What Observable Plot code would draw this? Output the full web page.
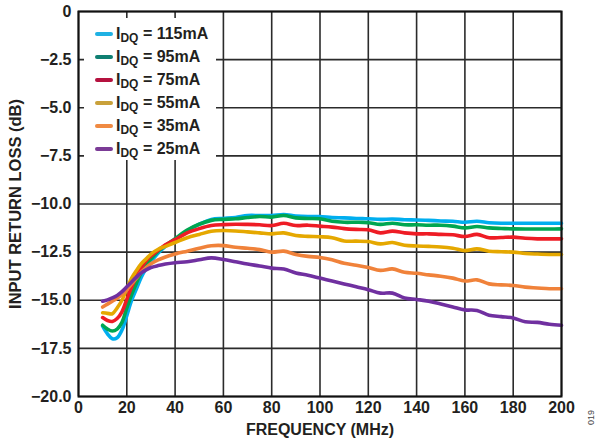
<!DOCTYPE html>
<html>
<head>
<meta charset="utf-8">
<script src="https://cdn.jsdelivr.net/npm/d3@7"></script>
<script src="https://cdn.jsdelivr.net/npm/@observablehq/plot@0.6"></script>
<style>
  html, body { margin: 0; padding: 0; background: #fff; }
  #wrap { position: relative; width: 601px; height: 444px; font-family: "Liberation Sans", Arial, sans-serif; }
  #legend { position: absolute; left: 84px; top: 18px; width: 132px; height: 142px; background: #fff; }
  .row { position: absolute; left: 11px; height: 20px; display: flex; align-items: center; font-weight: bold; font-size: 16px; color: #231f20; white-space: nowrap; }
  .sw { width: 18px; height: 4px; border-radius: 2px; margin-right: 3px; }
  .row sub { font-size: 12px; position: relative; top: 3px; vertical-align: baseline; }
  #code { position: absolute; left: 586px; top: 425px; transform: rotate(-90deg); transform-origin: left top; font-size: 9px; color: #444; font-family: "Liberation Sans", Arial, sans-serif; }
</style>
</head>
<body>
<div id="wrap"></div>
<script>
const freq = [10,12,14,16,18,20,22,24,26,28,30,33,36,40,45,50,55,60,65,70,75,80,85,90,95,100,105,110,115,120,125,130,135,140,145,150,155,160,165,170,175,180,185,190,195,200];
const idq115 = [-16.35,-16.75,-17.0,-16.95,-16.55,-15.8,-15.0,-14.4,-13.8,-13.35,-13.0,-12.55,-12.2,-11.85,-11.4,-11.05,-10.8,-10.75,-10.7,-10.6,-10.6,-10.6,-10.55,-10.62,-10.65,-10.65,-10.7,-10.72,-10.75,-10.77,-10.8,-10.78,-10.82,-10.83,-10.85,-10.88,-10.9,-10.95,-10.9,-10.97,-11.0,-11.0,-11.0,-11.0,-11.0,-11.0];
const idq95 = [-16.3,-16.5,-16.6,-16.5,-16.15,-15.4,-14.7,-14.1,-13.55,-13.15,-12.85,-12.45,-12.15,-11.8,-11.35,-11.05,-10.85,-10.8,-10.77,-10.7,-10.65,-10.68,-10.6,-10.72,-10.75,-10.77,-10.9,-10.95,-10.95,-10.97,-11.06,-11.0,-11.08,-11.08,-11.1,-11.1,-11.15,-11.24,-11.17,-11.24,-11.27,-11.29,-11.3,-11.3,-11.3,-11.29];
const idq75 = [-15.9,-16.05,-16.1,-15.95,-15.6,-14.95,-14.3,-13.75,-13.3,-12.95,-12.7,-12.4,-12.12,-11.85,-11.5,-11.28,-11.12,-11.07,-11.05,-11.06,-11.08,-11.12,-11.0,-11.12,-11.1,-11.15,-11.2,-11.28,-11.32,-11.34,-11.5,-11.41,-11.5,-11.55,-11.55,-11.58,-11.6,-11.69,-11.58,-11.75,-11.74,-11.72,-11.78,-11.81,-11.81,-11.81];
const idq55 = [-15.65,-15.68,-15.7,-15.4,-15.0,-14.4,-13.85,-13.45,-13.1,-12.85,-12.6,-12.35,-12.2,-12.0,-11.75,-11.58,-11.42,-11.38,-11.4,-11.45,-11.5,-11.55,-11.5,-11.64,-11.68,-11.7,-11.75,-11.92,-11.93,-11.95,-12.07,-12.0,-12.14,-12.18,-12.2,-12.23,-12.3,-12.42,-12.33,-12.45,-12.48,-12.5,-12.57,-12.6,-12.62,-12.62];
const idq35 = [-15.35,-15.2,-15.05,-14.9,-14.7,-14.45,-14.15,-13.85,-13.55,-13.3,-13.1,-12.9,-12.75,-12.6,-12.45,-12.3,-12.17,-12.16,-12.25,-12.3,-12.37,-12.5,-12.45,-12.62,-12.72,-12.78,-12.9,-13.08,-13.18,-13.3,-13.45,-13.37,-13.55,-13.6,-13.68,-13.75,-13.85,-14.0,-13.94,-14.15,-14.2,-14.23,-14.32,-14.36,-14.4,-14.4];
const idq25 = [-15.05,-14.98,-14.88,-14.75,-14.55,-14.3,-14.05,-13.8,-13.58,-13.42,-13.3,-13.2,-13.12,-13.05,-13.0,-12.9,-12.8,-12.88,-13.0,-13.12,-13.22,-13.33,-13.38,-13.58,-13.7,-13.85,-14.0,-14.15,-14.3,-14.45,-14.63,-14.63,-14.88,-14.96,-15.05,-15.2,-15.35,-15.5,-15.53,-15.78,-15.85,-15.92,-16.12,-16.15,-16.25,-16.3];

const seriesNames = ["115mA","95mA","75mA","55mA","35mA","25mA"];
const lineColors = ["#00aeef","#00a651","#ee1c25","#e5a800","#f0823a","#7030a0"];
const legendColors = ["#1fb1e3","#0f7f72","#b5123f","#c9a13a","#f08a42","#7b3b96"];
const xTicks = [0,20,40,60,80,100,120,140,160,180,200];
const yTicks = [0,-2.5,-5,-7.5,-10,-12.5,-15,-17.5,-20];

const seriesValues = [idq115, idq95, idq75, idq55, idq35, idq25];
const rows = [];
seriesNames.forEach((name, i) => {
  freq.forEach((f, j) => rows.push({series: name, freq: f, rl: seriesValues[i][j]}));
});

const fmtY = d => d === 0 ? "0" : "\u2212" + Math.abs(d).toFixed(1);

const chart = Plot.plot({
  width: 601,
  height: 444,
  marginLeft: 78,
  marginRight: 40,
  marginTop: 11,
  marginBottom: 48,
  style: {fontFamily: "'Liberation Sans', Arial, sans-serif", background: "#fff"},
  x: {domain: [0, 200], ticks: xTicks},
  y: {domain: [-20, 0], ticks: yTicks},
  color: {domain: seriesNames, range: lineColors},
  marks: [
    Plot.gridX(xTicks, {stroke: "#2b2b2b", strokeOpacity: 1, strokeWidth: 1.6}),
    Plot.gridY(yTicks, {stroke: "#2b2b2b", strokeOpacity: 1, strokeWidth: 1.6}),
    Plot.line(rows, {x: "freq", y: "rl", z: "series", stroke: "series", strokeWidth: 3.6, curve: "catmull-rom", strokeLinejoin: "round", strokeLinecap: "round"}),
    Plot.frame({stroke: "#111", strokeWidth: 2}),
    Plot.axisX(xTicks, {tickSize: 0, tickPadding: 5, fontSize: 16, fontWeight: "bold", fill: "#231f20", label: null}),
    Plot.axisY(yTicks, {tickSize: 0, tickPadding: 7, fontSize: 16, fontWeight: "bold", fill: "#231f20", label: null, tickFormat: fmtY}),
    Plot.text(["FREQUENCY (MHz)"], {frameAnchor: "bottom", dy: 38, fontSize: 16, fontWeight: "bold", fill: "#231f20"}),
    Plot.text(["INPUT RETURN LOSS (dB)"], {frameAnchor: "left", textAnchor: "middle", dx: -63, rotate: -90, fontSize: 16.5, fontWeight: "bold", fill: "#231f20"})
  ]
});

const wrap = document.getElementById("wrap");
wrap.appendChild(chart);

const legend = document.createElement("div");
legend.id = "legend";
seriesNames.forEach((name, i) => {
  const r = document.createElement("div");
  r.className = "row";
  r.style.top = (6 + i * 23) + "px";
  const sw = document.createElement("span");
  sw.className = "sw";
  sw.style.background = legendColors[i];
  r.appendChild(sw);
  const t = document.createElement("span");
  t.innerHTML = "I<sub>DQ</sub> = " + name;
  r.appendChild(t);
  legend.appendChild(r);
});
wrap.appendChild(legend);

const code = document.createElement("div");
code.id = "code";
code.textContent = "019";
wrap.appendChild(code);
</script>
</body>
</html>
